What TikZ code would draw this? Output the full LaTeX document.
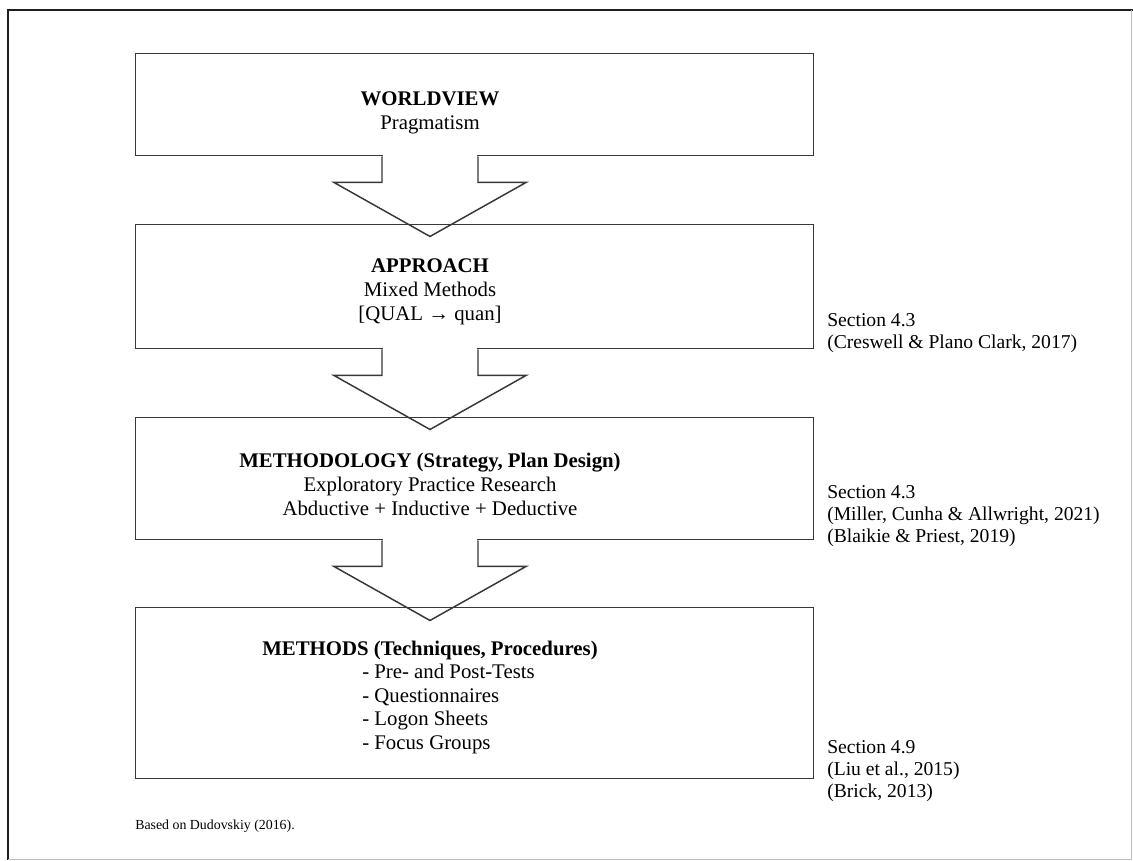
\documentclass[tikz,border=0pt]{standalone}
\usepackage{fontspec}
\setmainfont{Liberation Serif}
\usetikzlibrary{calc}
\newcommand\flowarr[1]{%
  \fill[white] ($(axis |- #1.south)+(-47,-1.6)$) rectangle ($(axis |- #1.south)+(47,1.6)$);
  \draw[lineink] ($(axis |- #1.south)+(-48,0)$) -- ++(0,26) -- ++(-48,0) -- ++(96,54) -- ++(96,-54) -- ++(-48,0) -- ++(0,-26);
}
\begin{document}
\begin{tikzpicture}[x=0.75pt,y=-0.75pt,
  lineink/.style={draw=black!78, line width=1.1pt, line join=miter},
  box/.style={lineink, inner sep=0pt, anchor=north west, minimum width=508.5pt},
  maintxt/.style={inner sep=0pt, align=center, font=\fontsize{15.6}{18}\selectfont},
  listtxt/.style={inner sep=0pt, align=left, anchor=west, font=\fontsize{15.6}{17.6}\selectfont},
  sidetxt/.style={inner sep=0pt, align=left, anchor=west, font=\fontsize{14.7}{16.4}\selectfont},
  notetxt/.style={inner sep=0pt, anchor=west, font=\fontsize{10.4}{12}\selectfont}
]
\useasboundingbox (0,0) rectangle (1133,861);
\fill[white] (0,0) rectangle (1133,861);
% outer frame
\draw[black!88, line width=2.2pt] (8,860) -- (8,10) -- (1133,10);
\draw[black!25, line width=0.8pt] (8,859.5) -- (1131.5,859.5) -- (1131.5,10);
\coordinate (axis) at (430,0);
% boxes
\node[box, minimum height=76.5pt] (b1) at (135,53) {};
\node[box, minimum height=93pt] (b2) at (135,224) {};
\node[box, minimum height=91.5pt] (b3) at (135,417) {};
\node[box, minimum height=128.25pt] (b4) at (135,607) {};
% arrows
\flowarr{b1}
\flowarr{b2}
\flowarr{b3}
% box texts
\node[maintxt] (t1) at (430,113) {\textbf{WORLDVIEW}\\Pragmatism};
\node[maintxt] (t2) at (430,292) {\textbf{APPROACH}\\Mixed Methods\\{}[QUAL → quan]};
\node[maintxt] (t3) at (430,484) {\textbf{METHODOLOGY (Strategy, Plan Design)}\\Exploratory Practice Research\\Abductive + Inductive + Deductive};
\node[maintxt] (t4) at (430,650) {\textbf{METHODS (Techniques, Procedures)}};
\node[listtxt] (l4) at (362,709) {- Pre- and Post-Tests\\- Questionnaires\\- Logon Sheets\\- Focus Groups};
% side notes
\node[sidetxt] (s2) at (827,333.5) {Section 4.3\\(Creswell \& Plano Clark, 2017)};
\node[sidetxt] (s3) at (827,516) {Section 4.3\\(Miller, Cunha \& Allwright, 2021)\\(Blaikie \& Priest, 2019)};
\node[sidetxt] (s4) at (827,771) {Section 4.9\\(Liu et al., 2015)\\(Brick, 2013)};
\node[notetxt] (n1) at (135,826) {Based on Dudovskiy (2016).};
\end{tikzpicture}
\end{document}
